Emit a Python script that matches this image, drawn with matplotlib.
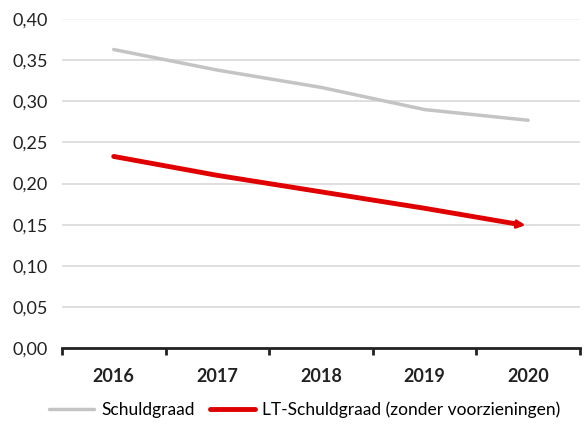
import matplotlib
matplotlib.use("Agg")
import matplotlib.pyplot as plt
from matplotlib.ticker import FuncFormatter, FixedLocator

jaren = ["2016", "2017", "2018", "2019", "2020"]
schuldgraad = [0.363, 0.338, 0.317, 0.290, 0.277]
lt_schuldgraad = [0.233, 0.210, 0.190, 0.170, 0.149]

plt.rcParams['font.family'] = ['Lato', 'DejaVu Sans']

fig = plt.figure(figsize=(5.84, 4.24), dpi=100)
ax = fig.add_axes([0.106, 0.179, 0.887, 0.776])

x = list(range(len(jaren)))

# rasterlijnen (bovenste lijn bijna onzichtbaar)
for v in [0.05, 0.10, 0.15, 0.20, 0.25, 0.30, 0.35]:
    ax.axhline(v, color='#d9d9d9', linewidth=1.2, zorder=0)
ax.axhline(0.40, color='#f2f2f2', linewidth=1.2, zorder=0)

ax.plot(x, schuldgraad, color='#c4c4c4', linewidth=2.5,
        solid_capstyle='round', label='Schuldgraad', zorder=2)
ax.plot(x[:-1] + [x[-1] - 0.08],
        lt_schuldgraad[:-1] + [lt_schuldgraad[-1] + 0.0012],
        color='#e00000', linewidth=3.5, solid_capstyle='round',
        label='LT-Schuldgraad (zonder voorzieningen)', zorder=3)
ax.annotate('', xy=(x[-1], lt_schuldgraad[-1]),
            xytext=(x[-1] - 0.12, lt_schuldgraad[-1] + 0.0018),
            arrowprops=dict(arrowstyle='-|>', color='#e00000', lw=2,
                            mutation_scale=12), zorder=3)

ax.set_xlim(-0.5, len(jaren) - 0.5)
ax.set_ylim(0, 0.40)
ax.set_yticks([0, 0.05, 0.10, 0.15, 0.20, 0.25, 0.30, 0.35, 0.40])
ax.yaxis.set_major_formatter(FuncFormatter(lambda v, p: f"{v:.2f}".replace('.', ',')))
ax.tick_params(axis='y', length=0, labelsize=13, pad=10, colors='#222222')

ax.set_xticks(x)
ax.set_xticklabels(jaren, fontweight='bold', fontsize=13)
ax.tick_params(axis='x', length=0, pad=14, colors='#222222')
ax.xaxis.set_minor_locator(FixedLocator([i - 0.5 for i in range(len(jaren) + 1)]))
ax.tick_params(axis='x', which='minor', length=5, width=2, color='#222222', direction='out')

for s in ['top', 'right', 'left']:
    ax.spines[s].set_visible(False)
ax.spines['bottom'].set_linewidth(2)
ax.spines['bottom'].set_color('#222222')

fig.legend(loc='center', bbox_to_anchor=(0.522, 0.033), ncol=2, frameon=False,
           fontsize=12.5, handlelength=2.6, columnspacing=0.9, handletextpad=0.4,
           borderpad=0, borderaxespad=0)

fig.savefig('out.png', dpi=100, facecolor='white')
